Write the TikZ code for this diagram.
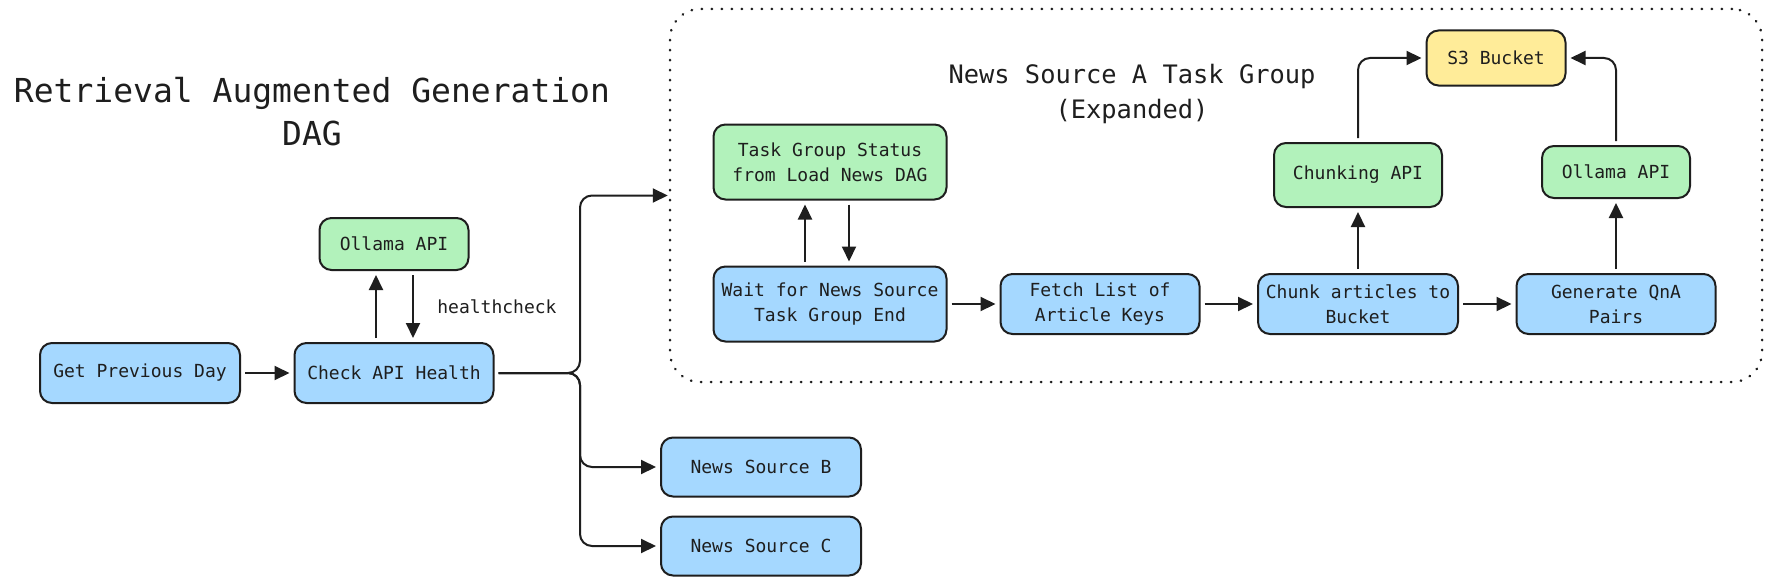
\documentclass[tikz,border=0pt]{standalone}
\usepackage{fontspec}
\setmainfont{DejaVu Sans Mono}
\usepackage{tikz}
\usetikzlibrary{arrows.meta, positioning}
\definecolor{ink}{HTML}{1E1E1E}
\definecolor{taskblue}{HTML}{A5D8FF}
\definecolor{apigreen}{HTML}{B2F2BB}
\definecolor{bucketyellow}{HTML}{FFEC99}

\begin{document}
\begin{tikzpicture}[x=1pt, y=-1pt,
    task/.style={draw=ink, line width=2pt, rounded corners=12pt, fill=taskblue, text=ink,
      align=center, inner sep=0pt, minimum width=200pt, minimum height=60pt,
      font=\fontsize{18}{25}\selectfont},
    api/.style={task, fill=apigreen},
    bucket/.style={task, fill=bucketyellow},
    arr/.style={draw=ink, line width=2pt, -{Triangle[length=15pt,width=14pt]},
      shorten >=4pt, shorten <=4pt, rounded corners=12pt}]
  \fill[white] (0,0) rectangle (1771,586);
  \useasboundingbox (0,0) rectangle (1771,586);

  \node[font=\fontsize{33}{43}\selectfont, align=center, anchor=north, inner sep=0pt, text=ink]
    (title) at (312,77) {Retrieval Augmented Generation\\DAG};

  % main dag
  \node[task] (prev) at (140,373) {Get Previous Day};
  \node[task, minimum width=199pt] (check) at (394,373) {Check API Health};
  \node[api, minimum width=149pt, minimum height=52pt] (ollama1) at (394,244) {Ollama API};
  \node[task, minimum height=59pt] (srcB) at (761,467) {News Source B};
  \node[task, minimum height=59pt] (srcC) at (761,546) {News Source C};
  \coordinate (fork) at (580,373);

  % expanded group
  \node[draw=ink, line width=2.5pt, dash pattern=on 0.5pt off 9.5pt, line cap=round,
    rounded corners=30pt, minimum width=1092pt, minimum height=373pt, inner sep=0pt]
    (groupA) at (1216,195.5) {};
  \node[font=\fontsize{25.4}{35}\selectfont, align=center, anchor=north, inner sep=0pt, text=ink]
    (grouptitle) at (1132,64) {News Source A Task Group\\(Expanded)};
  \node[api, minimum width=233pt, minimum height=75pt] (status) at (830,162) {Task Group Status\\from Load News DAG};
  \node[task, minimum width=233pt, minimum height=75pt] (wait) at (830,304) {Wait for News Source\\Task Group End};
  \node[task, minimum width=199pt] (fetch) at (1100,304) {Fetch List of\\Article Keys};
  \node[task] (chunk) at (1358,304) {Chunk articles to\\Bucket};
  \node[task, minimum width=199pt] (qna) at (1616,304) {Generate QnA\\Pairs};
  \node[api, minimum width=168pt, minimum height=64pt] (chunkapi) at (1358,175) {Chunking API};
  \node[api, minimum width=148pt, minimum height=52pt] (ollama2) at (1616,172) {Ollama API};
  \node[bucket, minimum width=139pt, minimum height=55pt] (s3) at (1496,58) {S3 Bucket};

  % connectors
  \draw[arr] (prev) -- (check);
  \draw[arr] ([xshift=-18pt]check.north) -- ([xshift=-18pt]check.north |- ollama1.south);
  \draw[arr] ([xshift=19pt]check.north |- ollama1.south) -- ([xshift=19pt]check.north)
    node[midway, right=20pt, text=ink, font=\fontsize{18}{25}\selectfont] {healthcheck};
  \draw[arr, shorten >=1pt] (check.east) -- (fork) |- (groupA.west);
  \draw[arr] (check.east) -- (fork) |- (srcB.west);
  \draw[arr] (check.east) -- (fork) |- (srcC.west);

  \draw[arr] ([xshift=-25pt]wait.north) -- ([xshift=-25pt]wait.north |- status.south);
  \draw[arr] ([xshift=19pt]wait.north |- status.south) -- ([xshift=19pt]wait.north);
  \draw[arr] (wait) -- (fetch);
  \draw[arr] (fetch) -- (chunk);
  \draw[arr] (chunk) -- (qna);
  \draw[arr] (chunk) -- (chunkapi);
  \draw[arr] (qna) -- (ollama2);
  \draw[arr] (chunkapi) |- (s3);
  \draw[arr] (ollama2) |- (s3);
\end{tikzpicture}
\end{document}
